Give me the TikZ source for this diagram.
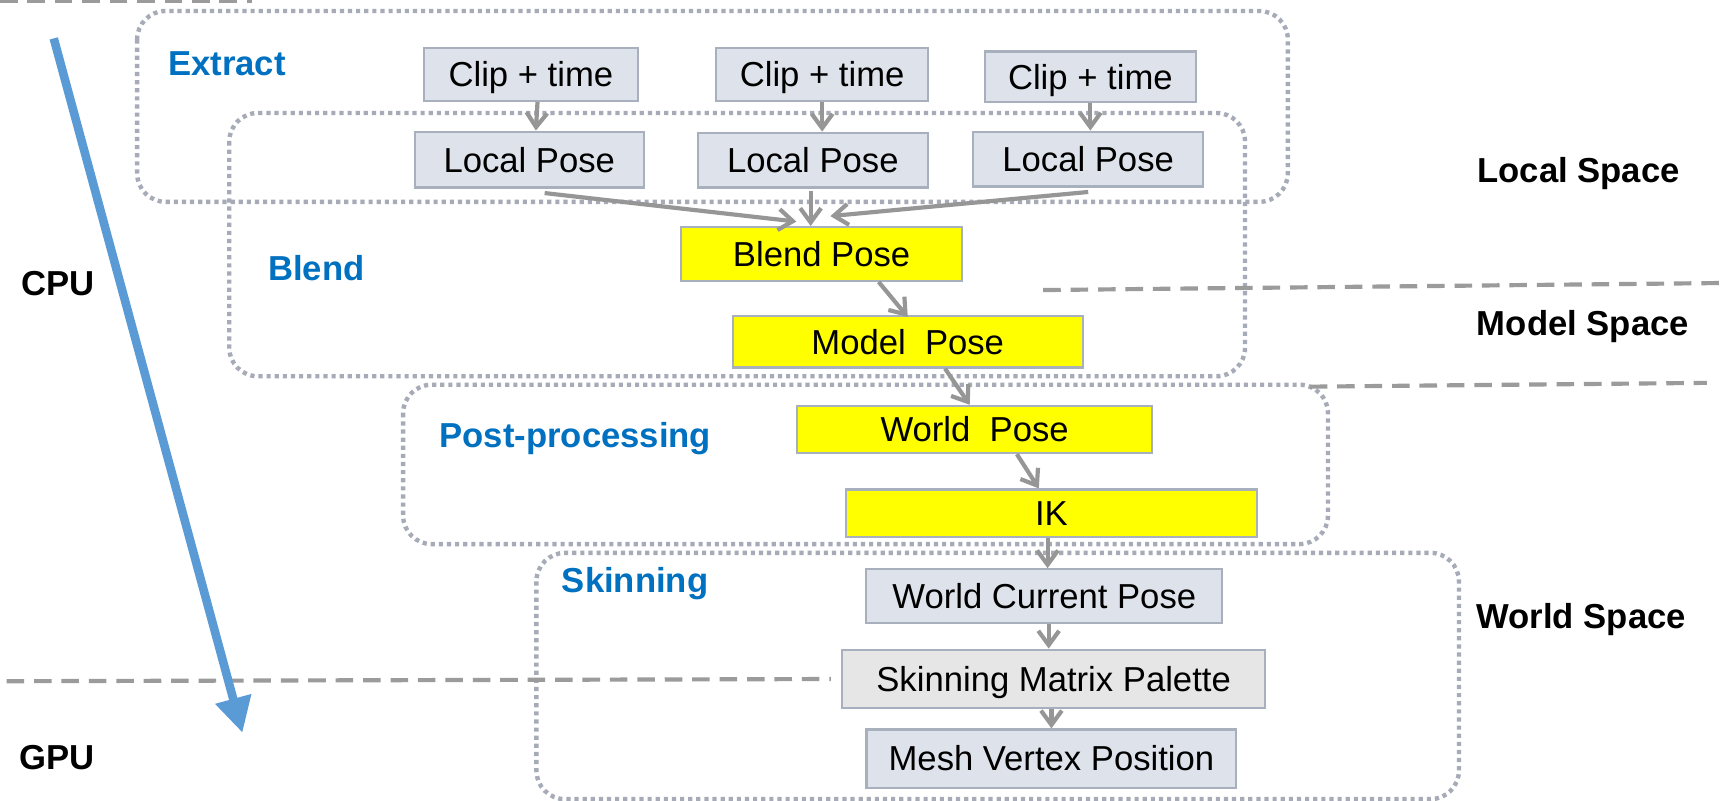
\documentclass[tikz,border=0pt]{standalone}
\usepackage{fontspec}
\setmainfont{Liberation Sans}
\usetikzlibrary{arrows.meta,calc}
\definecolor{boxfill}{RGB}{222,227,235}
\definecolor{boxline}{RGB}{168,176,190}
\definecolor{palfill}{RGB}{230,230,230}
\definecolor{hl}{RGB}{255,255,0}
\definecolor{dotc}{RGB}{166,171,183}
\definecolor{dashc}{RGB}{155,155,155}
\definecolor{conc}{RGB}{150,150,150}
\definecolor{lblue}{RGB}{0,112,192}
\definecolor{abl}{RGB}{91,155,213}
\begin{document}
\begin{tikzpicture}[x=0.5pt,y=-0.5pt,
  every node/.style={font=\fontsize{15.8pt}{18pt}\selectfont, inner sep=0pt, text height=12pt, text depth=0.7pt},
  stage/.style={draw=boxline, line width=1pt, fill=boxfill},
  hot/.style={draw=boxline, line width=1pt, fill=hl},
  pal/.style={draw=boxline, line width=1pt, fill=palfill},
  grp/.style={draw=dotc, line width=2pt, dash pattern=on 1.9pt off 1.8pt, rounded corners=13pt},
  sep/.style={draw=dashc, line width=1.9pt, dash pattern=on 8pt off 4.5pt},
  conn/.style={draw=conc, line width=1.9pt, -{Straight Barb[length=6.5pt,width=9.5pt]}},
  lbl/.style={text=lblue, font=\fontsize{15.8pt}{18pt}\selectfont\bfseries},
  side/.style={text=black, font=\fontsize{15.8pt}{18pt}\selectfont\bfseries}]
\useasboundingbox (0,0) rectangle (1568,730);
\fill[white] (0,0) rectangle (1568,730);

% group frames
\draw[grp] (125,10) rectangle (1174,184);
\draw[grp] (209,103) rectangle (1135,343);
\draw[grp] (367.5,350.7) rectangle (1210.6,496);
\draw[grp] (489,504) rectangle (1330,728.5);

% separators
\draw[sep] (0,1) -- (230,1);
\draw[sep] (951,264.4) -- (1568,258);
\draw[sep] (1194,352.5) -- (1556,349);

% stage boxes
\node[stage, minimum width=97.5pt, minimum height=24pt] (C1) at (484,68) {Clip + time};
\node[stage, minimum width=96.5pt, minimum height=24pt] (C2) at (749.5,68) {Clip + time};
\node[stage, minimum width=96pt, minimum height=23pt] (C3) at (994,70) {Clip + time};
\node[stage, minimum width=104.5pt, minimum height=25.5pt] (L1) at (482.5,145.5) {Local Pose};
\node[stage, minimum width=105pt, minimum height=25pt] (L2) at (741,146) {Local Pose};
\node[stage, minimum width=105pt, minimum height=25pt] (L3) at (992,145) {Local Pose};
\node[hot, minimum width=128pt, minimum height=24.5pt] (BP) at (749,231.5) {Blend Pose};
\node[hot, minimum width=159.5pt, minimum height=23.5pt] (MP) at (827.5,311.5) {Model\ \ Pose};
\node[hot, minimum width=162pt, minimum height=21.5pt] (WP) at (888.5,391.5) {World\ \ Pose};
\node[hot, minimum width=187.5pt, minimum height=21.75pt] (IK) at (958.5,468) {IK};
\node[stage, minimum width=162.25pt, minimum height=24.5pt] (WCP) at (952,543.5) {World Current Pose};
\node[pal, minimum width=193pt, minimum height=26.75pt] (SMP) at (960.5,619) {Skinning Matrix Palette};
\node[stage, minimum width=168.5pt, minimum height=26.5pt] (MVP) at (958.5,691.5) {Mesh Vertex Position};

\coordinate (gpuEnd) at ([xshift=-4.5pt]SMP.west);
\draw[sep] (6,621) -- (gpuEnd);

% labels
\node[lbl] (ext) at (207,57.6) {Extract};
\node[lbl] (bln) at (288.5,244.6) {Blend};
\node[lbl] (ppr) at (524.5,396.6) {Post-processing};
\node[lbl] (skn) at (579,529) {Skinning};
\node[side] (cpu) at (53,258) {CPU};
\node[side] (gpu) at (52,690) {GPU};
\node[side] (lsp) at (1439,155) {Local Space};
\node[side] (msp) at (1443,294.7) {Model Space};
\node[side] (wsp) at (1441.5,562) {World Space};

% blue CPU->GPU arrow
\coordinate (cpuTop) at (49,35);
\coordinate (gpuTip) at (221,668);
\draw[abl, line width=3.9pt, -{Triangle[length=16pt,width=16pt]}] (cpuTop) -- (gpuTip);

% connectors
\draw[conn] ([xshift=3pt]C1.south) -- ([xshift=3pt]L1.north);
\draw[conn] (C2.south) -- (C2.south |- L2.north);
\draw[conn] (C3.south) -- (C3.south |- L3.north);
\draw[conn] ([xshift=7pt,yshift=-2pt]L1.south) -- ([xshift=-11.5pt,yshift=2pt]BP.north);
\draw[conn] ([yshift=-1pt]L2.south -| 739,0) -- (BP.north -| 739,0);
\draw[conn] ([yshift=-2pt]L3.south) -- ([xshift=4pt,yshift=4.5pt]BP.north);
\draw[conn] ([xshift=26pt]BP.south) -- ([yshift=-1pt]MP.north);
\draw[conn] ([xshift=17pt]MP.south) -- ([xshift=-2.25pt]WP.north);
\draw[conn] ([xshift=19.25pt]WP.south) -- ([xshift=-5.75pt]IK.north);
\draw[conn] ([xshift=-1.75pt]IK.south) -- ([xshift=1.5pt]WCP.north);
\draw[conn] ([xshift=2pt]WCP.south) -- ([xshift=2pt]WCP.south |- SMP.north);
\draw[conn] (MVP.north |- SMP.south) -- (MVP.north);
\end{tikzpicture}
\end{document}
